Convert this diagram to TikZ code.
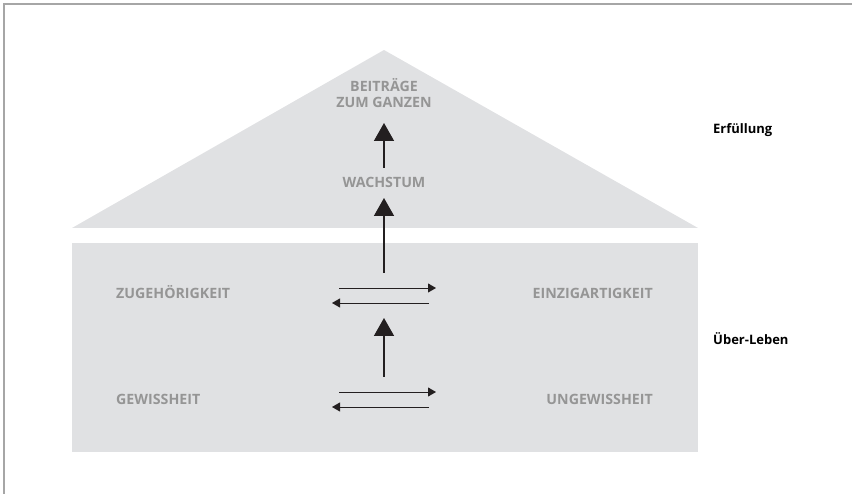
\documentclass[tikz,border=0pt]{standalone}
\usepackage{fontspec}
\setmainfont{Open Sans}
\usetikzlibrary{arrows.meta}
\definecolor{fillgray}{HTML}{E0E1E3}
\definecolor{txtgray}{HTML}{959595}
\definecolor{framegray}{HTML}{A6A6A6}
\definecolor{arrowblack}{HTML}{231F20}
\begin{document}
\begin{tikzpicture}[x=1pt,y=-1pt,
  graylabel/.style={font=\fontsize{14.2}{16}\selectfont\bfseries, text=txtgray, inner sep=0pt},
  sidelabel/.style={font=\fontsize{13}{14}\selectfont\bfseries, text=black, inner sep=0pt, anchor=base west},
  bigarrow/.style={draw=arrowblack, line width=1.6pt, -{Triangle[width=20pt,length=18pt]}},
  smallarrow/.style={draw=arrowblack, line width=0.9pt, -{Triangle[width=9pt,length=8pt]}}]
\useasboundingbox (0,0) rectangle (852,494);
\draw[framegray, line width=1.5pt] (4,494) -- (4,4) -- (852,4);
\fill[fillgray] (72,228) -- (384,50) -- (698,228) -- cycle;
\fill[fillgray] (72,243) rectangle (698,452);
% labels
\node[graylabel, anchor=base, align=center] (beitrag) at (384,108) {BEITRÄGE\\ZUM GANZEN};
\node[graylabel, anchor=base] (wachstum) at (384,188) {WACHSTUM};
\node[graylabel, anchor=base west] (zugeh) at (116,299) {ZUGEHÖRIGKEIT};
\node[graylabel, anchor=base east] (einzig) at (653,299) {EINZIGARTIGKEIT};
\node[graylabel, anchor=base west] (gewiss) at (116,405) {GEWISSHEIT};
\node[graylabel, anchor=base east] (ungewiss) at (653,405) {UNGEWISSHEIT};
\node[sidelabel] (erf) at (713,134) {Erfüllung};
\node[sidelabel] (ueber) at (713,345) {Über-Leben};
% arrow end points
\coordinate (a1s) at (384,168); \coordinate (a1e) at (384,123);
\coordinate (a2s) at (384,273); \coordinate (a2e) at (384,198);
\coordinate (a3s) at (384,377); \coordinate (a3e) at (384,318);
\coordinate (h1s) at (339,288); \coordinate (h1e) at (436,288);
\coordinate (h2s) at (429,303); \coordinate (h2e) at (332,303);
\coordinate (h3s) at (339,392); \coordinate (h3e) at (436,392);
\coordinate (h4s) at (429,407); \coordinate (h4e) at (332,407);
\draw[bigarrow] (a1s) -- (a1e);
\draw[bigarrow] (a2s) -- (a2e);
\draw[bigarrow] (a3s) -- (a3e);
\draw[smallarrow] (h1s) -- (h1e);
\draw[smallarrow] (h2s) -- (h2e);
\draw[smallarrow] (h3s) -- (h3e);
\draw[smallarrow] (h4s) -- (h4e);
\end{tikzpicture}
\end{document}
